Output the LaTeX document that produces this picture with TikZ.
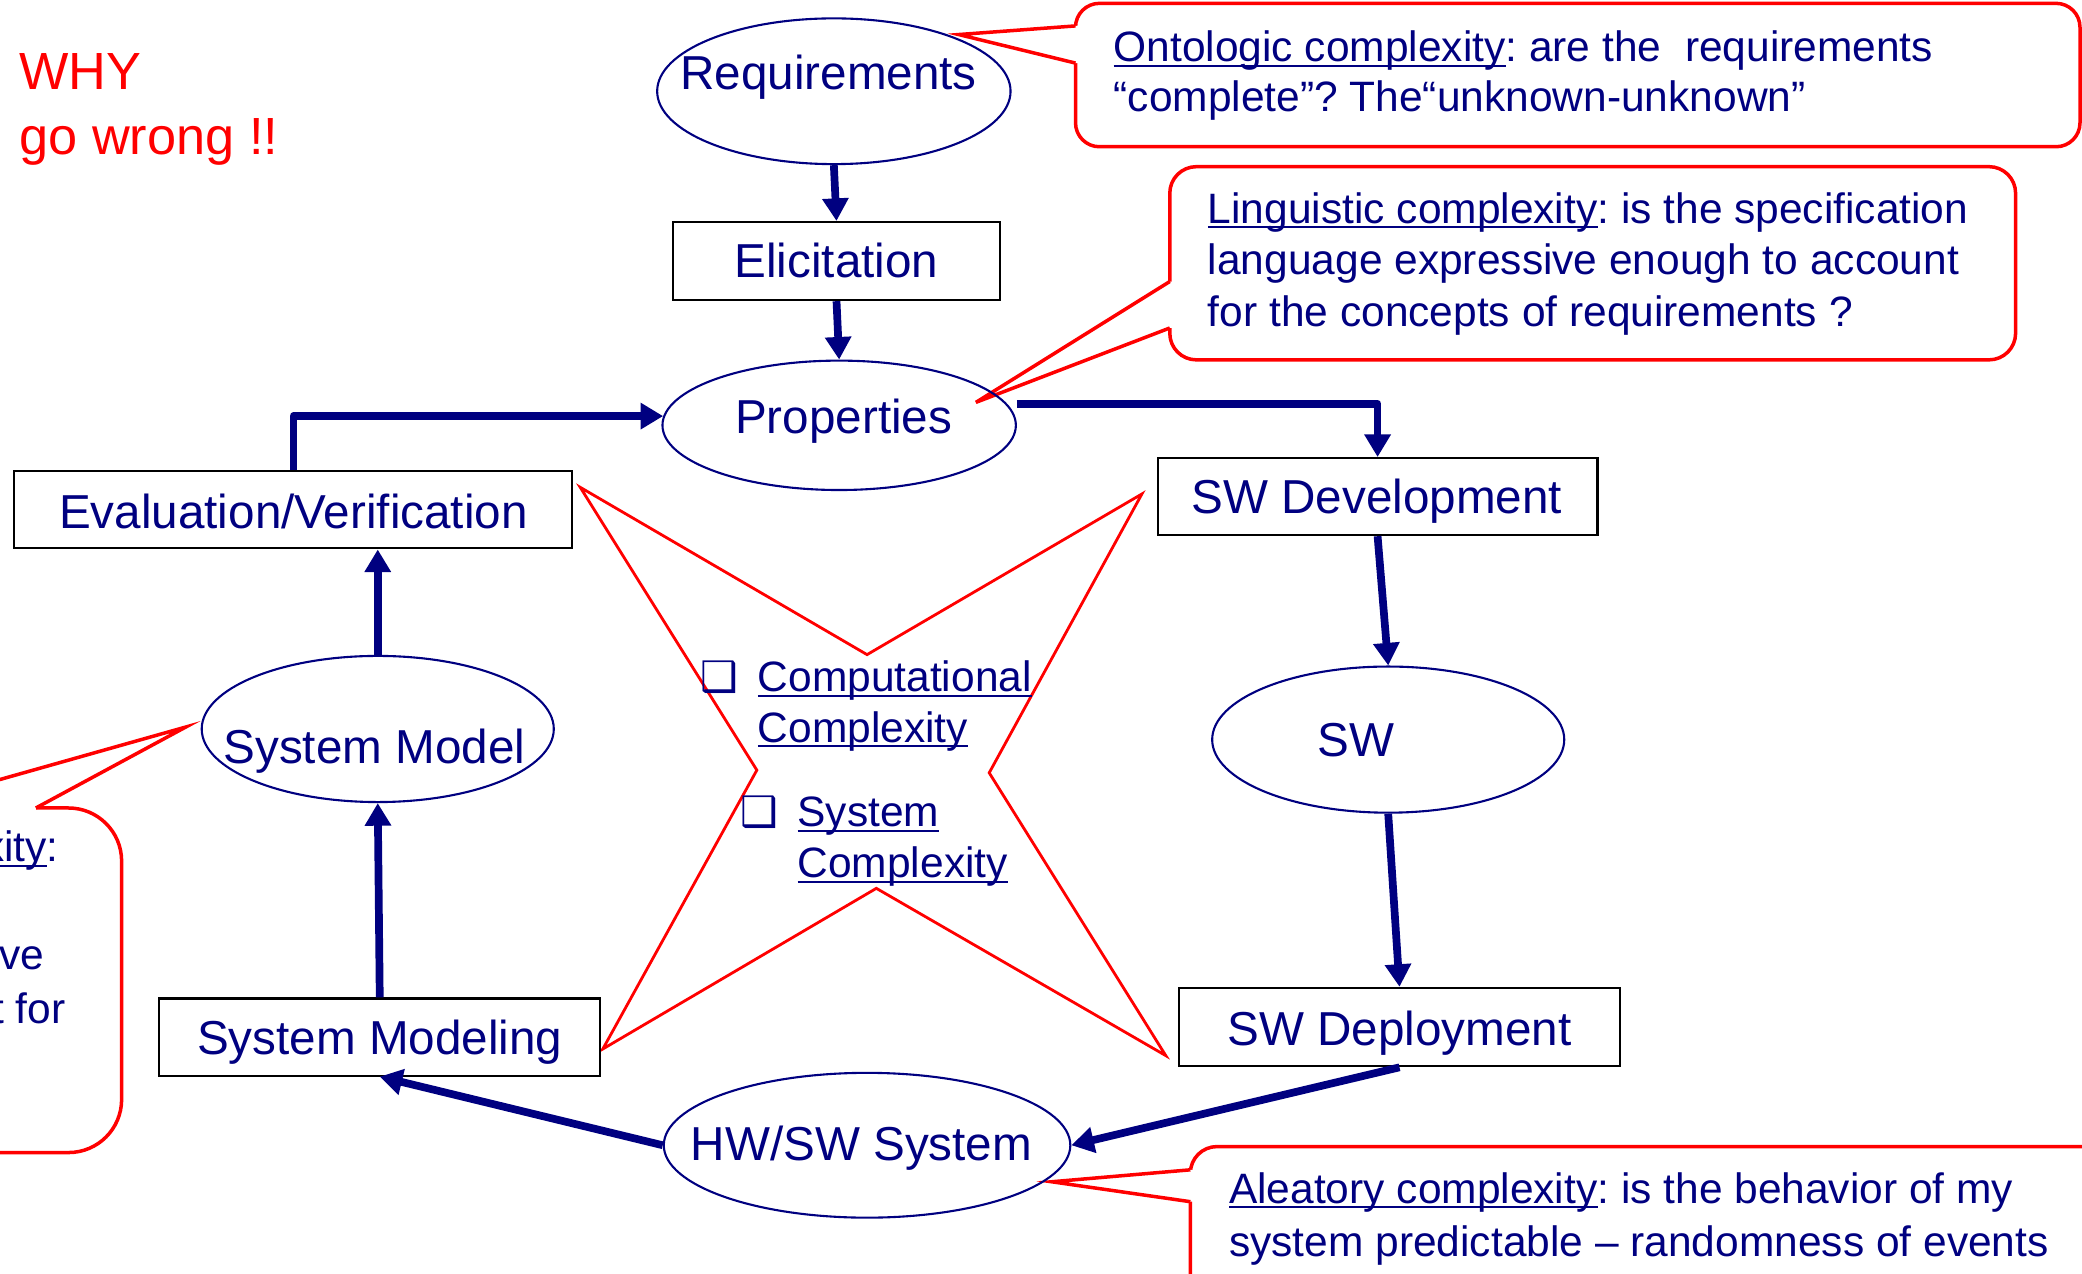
\documentclass[tikz,border=0pt]{standalone}
\usepackage{fontspec}
\setmainfont{Liberation Sans}
\newfontfamily\symfont{DejaVu Sans}
\usetikzlibrary{arrows.meta,shapes.geometric}
\definecolor{navy}{RGB}{0,0,128}
\definecolor{alarm}{RGB}{255,0,0}
\frenchspacing
% underline sitting just below the baseline, crossing the descenders
\newcommand\ulin[1]{\setbox0=\hbox{#1}\rlap{\rule[-0.12em]{\wd0}{0.05em}}\box0}

\begin{document}
\begin{tikzpicture}[x=0.01cm,y=-0.01cm,
  lbl/.style={text=navy,inner sep=0pt,anchor=base,font=\fontsize{10.2}{12}\selectfont},
  note/.style={text=navy,inner sep=0pt,anchor=base west,font=\fontsize{9.1}{11}\selectfont},
  bullet/.style={text=navy,inner sep=0pt,anchor=base west,font=\symfont\bfseries\fontsize{9}{11}\selectfont},
  shout/.style={text=alarm,inner sep=0pt,anchor=base west,font=\fontsize{11.2}{14}\selectfont},
  ellnode/.style={ellipse,draw=navy,line width=0.45pt,inner sep=0pt},
  boxnode/.style={rectangle,draw=black,line width=0.45pt,inner sep=0pt},
  flow/.style={navy,line width=1.65pt,line join=round,-{Triangle[length=0.17cm,width=0.19cm]}},
  calloutline/.style={alarm,line width=0.75pt,line join=miter},
  starline/.style={alarm,line width=0.6pt,line join=miter}]

\useasboundingbox (0,0) rectangle (1568,959);
\clip (0,0) rectangle (1568,959);

% ---------- callouts ----------
% ontologic
\draw[calloutline,rounded corners=0.18cm] (810,2.5) rectangle (1566.5,110.5);
\fill[white] (722,26) -- (810,19.5) -- (814,19.5) -- (814,47.5) -- (810,47.5) -- cycle;
\draw[calloutline] (810,19.5) -- (722,26) -- (810,47.5);
\node[note] (o1) at (838,46.5) {\ulin{Ontologic complexity}: are the \ requirements};
\node[note] (o2) at (838,84) {“complete”? The“unknown-unknown”};

% linguistic
\draw[calloutline,rounded corners=0.2cm] (881,125.5) rectangle (1518,271);
\fill[white] (735,303) -- (881,212) -- (885,212) -- (885,247) -- (881,247) -- cycle;
\draw[calloutline] (881,212) -- (735,303) -- (881,247);
\node[note] (g1) at (909,168) {\ulin{Linguistic complexity}: is the specification};
\node[note] (g2) at (909,207) {language expressive enough to account};
\node[note] (g3) at (909,246) {for the concepts of requirements ?};

% semantic (left, mostly outside)
\draw[calloutline,rounded corners=0.4cm] (-500,608.5) rectangle (91.6,868);
\fill[white] (140,547.5) -- (-76,608.5) -- (-76,612) -- (27,612) -- (27,608.5) -- cycle;
\draw[calloutline] (-76,608.5) -- (140,547.5) -- (27,608.5);
\node[note,anchor=base east] (e1) at (45,649) {\ulin{Semantic complexity}:};
\node[note,anchor=base east] (e3) at (34,730.5) {expressive};
\node[note,anchor=base east] (e4) at (50,770.6) {account for};

% aleatory
\draw[calloutline,rounded corners=0.2cm] (896.5,863.5) rectangle (1700,1100);
\fill[white] (792,890) -- (896.5,881) -- (900.5,881) -- (900.5,905) -- (896.5,905) -- cycle;
\draw[calloutline] (896.5,881) -- (792,890) -- (896.5,905);
\node[note] (a1) at (925,906) {\ulin{Aleatory complexity}: is the behavior of my};
\node[note] (a2) at (925,946) {system predictable – randomness of events};

% ---------- title ----------
\node[shout] (why1) at (14,67.3) {WHY};
\node[shout] (why2) at (14,116.7) {go wrong !!};

% ---------- star ----------
\draw[starline] (437,367) -- (653,493) -- (860,372) -- (745,582) -- (878,795)
  -- (660,669) -- (454,790) -- (570,580) -- cycle;
\node[bullet] (b1) at (527,521) {❑};
\node[note] (c1a) at (570,521) {\ulin{Computational}};
\node[note] (c1b) at (570,559) {\ulin{Complexity}};
\node[bullet] (b2) at (557,622.5) {❑};
\node[note] (c2a) at (600,622.5) {\ulin{System}};
\node[note] (c2b) at (600,661) {\ulin{Complexity}};

% ---------- process nodes ----------
\node[ellnode,minimum width=2.66cm,minimum height=1.097cm] (req) at (628,68.7) {};
\node[boxnode,minimum width=2.46cm,minimum height=0.588cm] (eli) at (630,196.6) {};
\node[ellnode,minimum width=2.66cm,minimum height=0.974cm] (prop) at (632,320.3) {};
\node[boxnode,minimum width=4.20cm,minimum height=0.58cm] (eval) at (221,384) {};
\node[boxnode,minimum width=3.31cm,minimum height=0.58cm] (swdev) at (1037.5,374) {};
\node[ellnode,minimum width=2.65cm,minimum height=1.10cm] (sw) at (1045.5,557) {};
\node[boxnode,minimum width=3.32cm,minimum height=0.59cm] (swdep) at (1054,773.5) {};
\node[ellnode,minimum width=3.06cm,minimum height=1.09cm] (hw) at (653,862.5) {};
\node[boxnode,minimum width=3.32cm,minimum height=0.58cm] (sysm) at (286,781) {};
\node[ellnode,minimum width=2.65cm,minimum height=1.10cm] (smod) at (284.5,549) {};

\node[lbl] (reqT) at (624,67.3) {Requirements};
\node[lbl] (eliT) at (630,209) {Elicitation};
\node[lbl] (propT) at (635.4,326.3) {Properties};
\node[lbl] (evalT) at (221,398) {Evaluation/Verification};
\node[lbl] (swdevT) at (1037,387) {SW Development};
\node[lbl] (swT) at (1021,570) {SW};
\node[lbl] (swdepT) at (1054,787) {SW Deployment};
\node[lbl] (hwT) at (648.8,874) {HW/SW System};
\node[lbl] (sysmT) at (286,794.5) {System Modeling};
\node[lbl] (smodT) at (282,575) {System Model};

% ---------- connectors ----------
\draw[flow] (req.south) -- (eli.north);
\draw[flow] (eli.south) -- (prop.north);
\draw[flow] (eval.north) |- (prop.177);
\draw[flow] ([yshift=0.163cm]prop.east) -| (swdev.north);
\draw[flow] (swdev.south) -- (sw.north);
\draw[flow] (sw.south) -- (swdep.north);
\draw[flow] (swdep.south) -- (hw.east);
\draw[flow] (hw.west) -- (sysm.south);
\draw[flow] (sysm.north) -- (smod.south);
\draw[flow] (smod.north) -- (smod.north |- eval.south);
\end{tikzpicture}
\end{document}
